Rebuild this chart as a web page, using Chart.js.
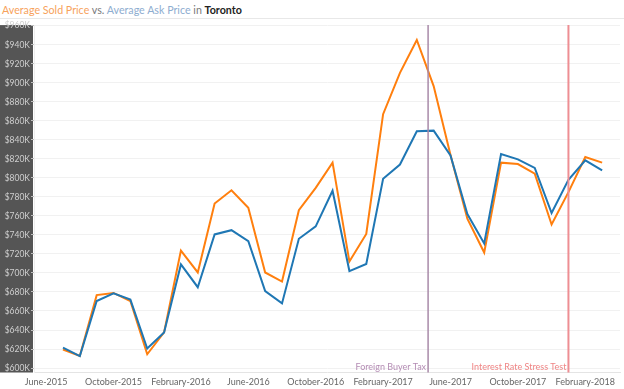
<!DOCTYPE html>
<html lang="en">
<head>
    <meta charset="UTF-8">
    <title>Average Sold Price vs. Average Ask Price in Toronto</title>
    <script src="https://cdn.jsdelivr.net/npm/chart.js"></script>
    <style>
        body {
            margin: 0;
            background-color: #fff;
            font-family: Lato, "Open Sans", sans-serif;
        }
        #title {
            height: 18px;
            line-height: 20px;
            padding-left: 2px;
            font-size: 10.7px;
            color: #7a7a7a;
            border-bottom: 1px solid #e8e8e8;
            white-space: nowrap;
        }
        #title .sold { color: #f7a25c; }
        #title .ask { color: #8eadd0; }
        #title .city { color: #222; font-weight: bold; }
        #wrap {
            position: relative;
            width: 624px;
            height: 370px;
        }
    </style>
</head>
<body>
    <div id="title"><span class="sold">Average Sold Price</span> vs. <span class="ask">Average Ask Price</span> in <span class="city">Toronto</span></div>
    <div id="wrap"><canvas id="priceChart"></canvas></div>

    <script>
        // monthly data, Jul-2015 .. Mar-2018 (values in $K)
        const months = ['2015-07', '2015-08', '2015-09', '2015-10', '2015-11', '2015-12',
            '2016-01', '2016-02', '2016-03', '2016-04', '2016-05', '2016-06',
            '2016-07', '2016-08', '2016-09', '2016-10', '2016-11', '2016-12',
            '2017-01', '2017-02', '2017-03', '2017-04', '2017-05', '2017-06',
            '2017-07', '2017-08', '2017-09', '2017-10', '2017-11', '2017-12',
            '2018-01', '2018-02', '2018-03'];
        const soldPrice = [619.5, 612.7, 676.7, 679, 670.5, 614.5, 637.5, 723.5, 700.5, 773, 787,
            768.5, 700.5, 691, 766, 789.5, 816, 712, 741, 867, 910.5, 945, 896.5,
            824, 757, 721.5, 816, 814.5, 804.5, 751, 785, 822, 816];
        const askPrice = [621.5, 612.5, 670.5, 678.5, 672, 620.5, 637.5, 709, 685, 740.5, 745,
            733.5, 681, 668, 736, 749, 786.5, 702, 709.5, 799, 814, 849, 849.7,
            823.5, 762, 731, 825, 819.5, 810.5, 763, 798, 818.5, 808];

        // axis ticks
        const xTickMonths = ['2015-06', '2015-10', '2016-02', '2016-06', '2016-10',
            '2017-02', '2017-06', '2017-10', '2018-02'];
        const monthNames = ['January', 'February', 'March', 'April', 'May', 'June', 'July',
            'August', 'September', 'October', 'November', 'December'];
        const yTicks = [600, 620, 640, 660, 680, 700, 720, 740, 760, 780, 800, 820, 840, 860,
            880, 900, 920, 940, 960];

        // reference lines: date (fraction of month) and label
        const events = [
            { month: '2017-04', dayFrac: 0.67, label: 'Foreign Buyer Tax', color: '#a98aa9', text: '#b48cb4', width: 1.5 },
            { month: '2018-01', dayFrac: 0, label: 'Interest Rate Stress Test', color: '#ee8e93', text: '#ef8585', width: 2 }
        ];

        // months counted from Jun-2015
        function monthIndex(str) {
            const [y, m] = str.split('-').map(Number);
            return (y - 2015) * 12 + (m - 6);
        }

        const xValues = months.map(monthIndex);
        const tickLabel = {};
        xTickMonths.forEach(s => {
            const [y, m] = s.split('-').map(Number);
            tickLabel[monthIndex(s)] = monthNames[m - 1] + '-' + y;
        });

        const panelPlugin = {
            id: 'panelPlugin',
            beforeDraw(chart) {
                const { ctx, chartArea } = chart;
                ctx.save();
                ctx.fillStyle = '#555555';
                ctx.fillRect(0, chartArea.top, chartArea.left - 1, chartArea.bottom - chartArea.top);
                ctx.restore();
            },
            afterDatasetsDraw(chart) {
                const { ctx, chartArea, scales } = chart;
                ctx.save();
                events.forEach(ev => {
                    const x = scales.x.getPixelForValue(monthIndex(ev.month) + ev.dayFrac);
                    ctx.strokeStyle = ev.color;
                    ctx.lineWidth = ev.width;
                    ctx.beginPath();
                    ctx.moveTo(x, chartArea.top);
                    ctx.lineTo(x, chartArea.bottom);
                    ctx.stroke();
                    ctx.font = '9px Lato, "Open Sans", sans-serif';
                    ctx.fillStyle = ev.text;
                    ctx.textAlign = 'right';
                    ctx.textBaseline = 'middle';
                    ctx.fillText(ev.label, x - 2, chartArea.bottom - 5.5);
                });
                ctx.restore();
            }
        };

        const ctx = document.getElementById('priceChart').getContext('2d');
        new Chart(ctx, {
            type: 'line',
            data: {
                datasets: [{
                    label: 'Average Ask Price',
                    data: xValues.map((x, i) => ({ x: x, y: askPrice[i] })),
                    borderColor: '#1f77b4',
                    borderWidth: 2,
                    pointRadius: 0,
                    tension: 0
                }, {
                    label: 'Average Sold Price',
                    data: xValues.map((x, i) => ({ x: x, y: soldPrice[i] })),
                    borderColor: '#ff7f0e',
                    borderWidth: 2,
                    pointRadius: 0,
                    tension: 0
                }]
            },
            options: {
                responsive: true,
                maintainAspectRatio: false,
                animation: false,
                layout: { padding: { top: 1, right: 4, bottom: 0, left: 0 } },
                plugins: {
                    legend: { display: false },
                    tooltip: { enabled: false }
                },
                scales: {
                    x: {
                        type: 'linear',
                        min: -0.72,
                        max: 34.06,
                        afterBuildTicks: scale => {
                            scale.ticks = xTickMonths.map(s => ({ value: monthIndex(s) }));
                        },
                        afterFit: scale => { scale.height = 16.5; },
                        ticks: {
                            autoSkip: false,
                            maxRotation: 0,
                            padding: 4,
                            color: '#666',
                            font: { family: 'Lato, "Open Sans", sans-serif', size: 9 },
                            callback: v => tickLabel[v] || ''
                        },
                        grid: { display: false, drawTicks: false },
                        border: { display: true, color: '#e4e4e4' }
                    },
                    y: {
                        min: 595.3,
                        max: 960.7,
                        afterBuildTicks: scale => {
                            scale.ticks = yTicks.map(v => ({ value: v }));
                        },
                        afterFit: scale => { scale.width = 34; },
                        ticks: {
                            padding: 1,
                            color: '#cfcfcf',
                            font: { family: 'Lato, "Open Sans", sans-serif', size: 8.5 },
                            callback: v => '$' + v + 'K'
                        },
                        grid: {
                            color: '#f1f1f1',
                            tickColor: '#bdbdbd',
                            tickLength: 3
                        },
                        border: { display: true, color: '#eeeeee' }
                    }
                }
            },
            plugins: [panelPlugin]
        });
    </script>
</body>
</html>
